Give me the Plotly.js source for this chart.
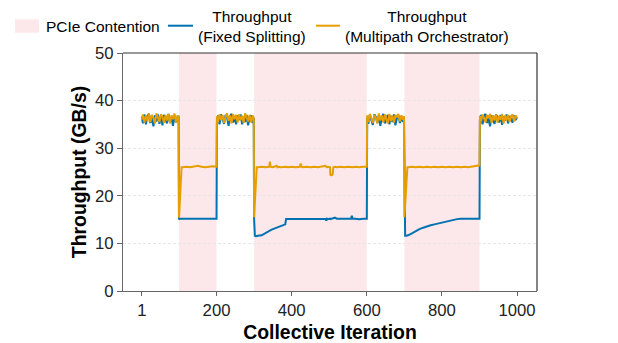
<!DOCTYPE html>
<html>
<head>
<meta charset="utf-8">
<script src="https://cdn.plot.ly/plotly-3.0.1.min.js"></script>
<style>html,body{margin:0;padding:0;background:#fff;}#chart{width:618px;height:343px;}</style>
</head>
<body>
<div id="chart"></div>
<script>
// Collective iteration index for each sample
const iteration = [
  1,4,8,12,16,20,24,28,32,36,40,44,48,52,56,60,64,68,72,76,80,84,88,92,96,99,
  100,101,104,107,
  110,120,130,140,150,160,170,180,190,199,
  200,
  201,204,208,212,216,220,224,228,232,236,240,244,248,252,256,260,264,268,272,276,280,284,288,292,296,299,
  300,302,305,307,
  310,320,330,340,342,344,350,360,362,364,370,380,383,385,390,400,410,422,424,426,430,440,450,460,470,480,490,492,494,496,500,502,503,506,509,511,515,520,530,540,550,558,560,562,570,580,590,599,
  600,
  601,604,608,612,616,620,624,628,632,636,640,644,648,652,656,660,664,668,672,676,680,684,688,692,696,699,
  700,702,705,708,
  710,720,730,740,750,760,770,780,790,800,810,820,830,840,850,860,870,880,890,899,
  900,
  901,904,908,912,916,920,924,928,932,936,940,944,948,952,956,960,964,968,972,976,980,984,988,992,996,1000
];

// Throughput (GB/s), Fixed Splitting
const fixedSplitting = [
  36.6,35.2,37.1,35.0,36.8,37.2,35.3,36.4,34.6,36.9,35.6,37.1,35.1,36.7,34.8,37.0,36.2,35.2,37.2,35.5,36.6,34.7,36.9,35.4,36.3,36.8,
  15.2,15.1,15.2,15.2,
  15.2,15.2,15.3,15.2,15.2,15.3,15.2,15.2,15.3,15.2,
  15.2,
  35.6,36.9,35.0,37.1,36.2,35.1,37.0,36.5,34.7,36.8,37.2,35.4,36.4,35.0,36.9,35.9,37.1,35.0,36.6,35.5,37.0,34.8,36.5,36.9,35.3,36.4,
  15.0,11.6,11.5,11.6,
  11.6,11.7,12.2,12.6,12.7,12.8,13.0,13.3,13.3,13.4,13.6,13.9,14.0,15.1,15.1,15.2,15.1,15.2,15.2,15.2,15.1,15.2,15.2,15.1,15.2,15.2,15.1,14.8,15.2,15.1,15.2,15.2,15.1,15.2,15.2,15.2,15.4,15.2,15.2,15.1,15.2,15.2,15.8,15.2,15.2,15.1,15.2,15.2,
  15.2,
  36.4,35.1,37.0,35.8,34.9,37.1,36.6,35.3,36.9,34.7,36.5,37.2,35.2,36.0,37.0,35.0,36.8,35.5,37.1,34.8,36.3,36.9,35.3,36.7,35.5,36.5,
  15.0,11.6,11.6,11.6,
  11.7,12.1,12.6,13.0,13.3,13.6,13.8,14.0,14.2,14.3,14.5,14.7,14.9,15.1,15.2,15.2,15.2,15.3,15.2,15.2,
  15.2,
  35.8,37.0,35.0,36.8,37.2,35.3,36.3,34.6,36.9,36.0,35.1,37.1,36.5,35.4,37.0,34.9,36.7,35.8,37.1,35.2,36.8,36.1,35.4,36.9,35.9,36.5
];

// Throughput (GB/s), Multipath Orchestrator
const multipath = [
  36.0,37.1,35.4,36.9,35.6,37.3,35.5,37.0,36.4,35.2,37.3,36.2,35.5,37.1,36.6,35.3,37.0,35.8,37.2,35.2,36.9,36.1,37.3,35.4,36.9,36.4,
  15.4,16.5,21.5,26.0,
  26.0,26.1,26.0,26.2,26.3,26.1,26.0,26.1,26.2,26.1,
  26.1,
  36.7,35.5,37.1,35.9,37.0,35.3,36.6,37.3,35.7,36.9,35.2,37.2,36.1,37.0,35.4,37.1,35.9,36.8,35.3,37.3,36.5,35.6,37.0,35.4,36.9,36.2,
  15.5,18.0,22.5,26.0,
  26.0,26.1,26.0,26.1,27.2,26.1,26.0,26.3,26.0,26.1,26.0,26.1,26.0,26.1,26.0,26.1,26.0,26.1,26.8,26.1,26.0,26.1,26.0,26.1,26.0,26.1,26.3,26.1,26.0,26.1,26.0,26.0,24.4,24.3,24.5,26.0,26.1,26.0,26.1,26.0,26.1,26.0,26.1,26.0,26.1,26.0,26.1,26.1,
  26.1,
  36.9,35.5,37.2,36.0,35.3,37.0,36.4,35.2,37.3,35.8,36.9,35.4,37.1,36.1,35.2,37.2,35.7,36.8,35.4,37.0,36.5,37.2,35.6,36.9,36.0,36.7,
  15.5,18.0,22.5,26.0,
  26.0,26.1,26.0,26.1,26.0,26.1,26.0,26.1,26.0,26.1,26.0,26.1,26.0,26.1,26.0,26.1,26.0,26.1,26.2,26.4,
  26.4,
  36.8,35.6,37.1,36.0,35.4,37.0,36.3,37.2,35.3,36.9,35.8,37.1,35.4,36.8,36.0,37.2,35.2,36.9,35.9,37.0,35.5,36.7,37.1,35.6,36.9,36.3
];

// PCIe contention windows (start, end iteration)
const contentionStart = [100, 300, 700];
const contentionEnd = [200, 600, 900];

const xTicks = [1, 200, 400, 600, 800, 1000];
const yTicks = [0, 10, 20, 30, 40, 50];

const legendLabels = ['PCIe Contention', 'Throughput<br>(Fixed Splitting)', 'Throughput<br>(Multipath Orchestrator)'];

const BLUE = '#0072B2';
const ORANGE = '#E69F00';
const PINK = '#fce8ea';
const FONT = 'Liberation Sans, Arial, sans-serif';

const shapes = [];
for (let i = 0; i < contentionStart.length; i++) {
  shapes.push({type: 'rect', xref: 'x', yref: 'paper', x0: contentionStart[i], x1: contentionEnd[i], y0: 0, y1: 1,
    fillcolor: PINK, line: {width: 0}, layer: 'below'});
}
// top & right frame
shapes.push({type: 'line', xref: 'paper', yref: 'paper', x0: 0, x1: 1, y0: 1, y1: 1, line: {color: '#333', width: 1.2}});
shapes.push({type: 'line', xref: 'paper', yref: 'paper', x0: 1, x1: 1, y0: 0, y1: 1, line: {color: '#333', width: 1.2}});
// legend glyphs
shapes.push({type: 'rect', xref: 'paper', yref: 'paper', x0: -0.2609, x1: -0.2029, y0: 1.0853, y1: 1.1416, fillcolor: PINK, line: {width: 0}});
shapes.push({type: 'line', xref: 'paper', yref: 'paper', x0: 0.1087, x1: 0.1691, y0: 1.1147, y1: 1.1147, line: {color: BLUE, width: 2}});
shapes.push({type: 'line', xref: 'paper', yref: 'paper', x0: 0.4662, x1: 0.5242, y0: 1.1147, y1: 1.1147, line: {color: ORANGE, width: 2}});

const annotations = [
  {xref: 'paper', yref: 'paper', x: -0.1908, y: 1.1134, xanchor: 'left', yanchor: 'middle', text: legendLabels[0], showarrow: false, font: {family: FONT, size: 15.5, color: '#000'}},
  {xref: 'paper', yref: 'paper', x: 0.3104, y: 1.1134, xanchor: 'center', yanchor: 'middle', align: 'center', text: legendLabels[1], showarrow: false, font: {family: FONT, size: 15.5, color: '#000'}},
  {xref: 'paper', yref: 'paper', x: 0.7343, y: 1.1134, xanchor: 'center', yanchor: 'middle', align: 'center', text: legendLabels[2], showarrow: false, font: {family: FONT, size: 15.5, color: '#000'}}
];

const traces = [
  {x: iteration, y: fixedSplitting, type: 'scatter', mode: 'lines', name: 'Throughput (Fixed Splitting)', line: {color: BLUE, width: 2}},
  {x: iteration, y: multipath, type: 'scatter', mode: 'lines', name: 'Throughput (Multipath Orchestrator)', line: {color: ORANGE, width: 2}}
];

const layout = {
  width: 618, height: 343,
  margin: {l: 123, r: 81, t: 53, b: 52},
  paper_bgcolor: '#fff', plot_bgcolor: '#fff',
  showlegend: false,
  font: {family: FONT, color: '#222'},
  xaxis: {
    range: [-49, 1053], tickvals: xTicks, ticktext: xTicks.map(String),
    showgrid: false, zeroline: false,
    showline: true, linecolor: '#666', linewidth: 1.2,
    ticks: 'outside', ticklen: 4, tickcolor: '#666', tickwidth: 1,
    tickfont: {family: FONT, size: 16.7, color: '#222'},
    title: {text: '<b>Collective Iteration</b>', font: {family: FONT, size: 19.4, color: '#000'}, standoff: 12}
  },
  yaxis: {
    range: [0, 50], tickvals: yTicks,
    showgrid: true, gridcolor: '#e6e6e6', griddash: '3px,2px', gridwidth: 1,
    zeroline: false,
    showline: true, linecolor: '#666', linewidth: 1.2,
    ticks: 'outside', ticklen: 5, tickcolor: '#666', tickwidth: 1,
    tickfont: {family: FONT, size: 16.7, color: '#222'},
    title: {text: '<b>Throughput (GB/s)</b>', font: {family: FONT, size: 19.4, color: '#000'}, standoff: 3}
  },
  shapes: shapes,
  annotations: annotations
};

Plotly.newPlot('chart', traces, layout, {displayModeBar: false, staticPlot: true});
</script>
</body>
</html>
